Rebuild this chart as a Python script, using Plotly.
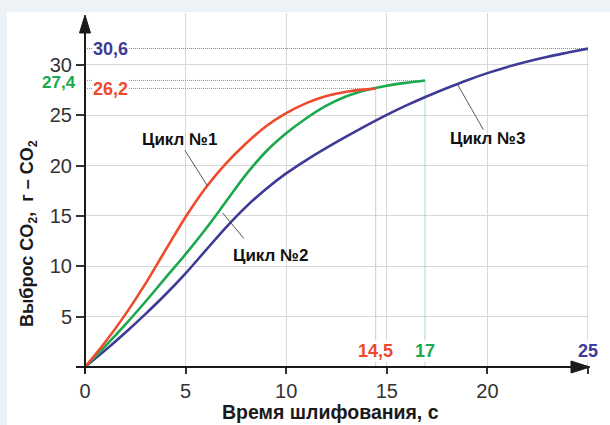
import plotly.graph_objects as go

# ---------------- data ----------------
red_x = [0, 1, 2, 3, 4, 5, 6, 7, 8, 9, 10, 11, 12, 13, 14, 14.45]
red_y = [0, 2.45, 5.2, 8.25, 11.6, 14.9, 17.8, 20.2, 22.2, 23.9, 25.2, 26.2, 26.9, 27.33, 27.57, 27.65]

green_x = [0, 1, 2, 3, 4, 5, 6, 7, 8, 9, 10, 11, 12, 13, 14, 15, 16, 16.9]
green_y = [0, 2.05, 4.2, 6.48, 8.85, 11.2, 13.7, 16.4, 19.1, 21.4, 23.2, 24.7, 25.95, 26.88, 27.5, 27.93,
           28.23, 28.45]

blue_x = list(range(0, 26))
blue_y = [0, 1.65, 3.4, 5.25, 7.2, 9.3, 11.58, 13.85, 15.9, 17.68, 19.22, 20.55, 21.76, 22.9, 24.0, 25.04,
          26.0, 26.89, 27.71, 28.48, 29.18, 29.8, 30.34, 30.81, 31.22, 31.62]

cycle_names = ["Цикл №1", "Цикл №2", "Цикл №3"]
end_time_labels = ["14,5", "17", "25"]
end_value_labels = ["26,2", "27,4", "30,6"]

x_ticks = [0, 5, 10, 15, 20, 25]
x_tick_text = ["0", "5", "10", "15", "20", ""]
y_ticks = [5, 10, 15, 20, 25, 30]

x_title = "Время шлифования, с"
y_title = "Выброс CO<sub>2</sub>,  г – CO<sub>2</sub>"

# ---------------- styling ----------------
RED = "#ee4a2c"
GREEN = "#1aa94c"
BLUE = "#3e3a98"
RED_DOT = "#f07a68"
GREEN_DOT = "#4cc078"
BLUE_DOT = "#7b78c4"
FONT = "Liberation Sans, Arial, sans-serif"

W, H = 610, 425
L, R, T, B = 85, 22, 13, 58
PW, PH = W - L - R, H - T - B


def px(xp):
    return (xp - L) / PW


def py(yp):
    return (H - B - yp) / PH


fig = go.Figure()

# dotted guide lines (end of each cycle)
for xs, ys, col in [(red_x, red_y, RED_DOT), (green_x, green_y, GREEN_DOT), (blue_x, blue_y, BLUE_DOT)]:
    xe, ye = xs[-1], ys[-1]
    fig.add_trace(go.Scatter(x=[0, xe, xe], y=[ye, ye, 0], mode="lines",
                             line=dict(color=col, width=1, dash="1px,1px"),
                             hoverinfo="skip"))

# curves
for xs, ys, col in [(blue_x, blue_y, BLUE), (green_x, green_y, GREEN), (red_x, red_y, RED)]:
    fig.add_trace(go.Scatter(x=xs, y=ys, mode="lines",
                             line=dict(color=col, width=2.6, shape="spline", smoothing=1.0),
                             hoverinfo="skip"))

# leader lines for the cycle labels
leaders = [((4.97, 21.5), (6.08, 18.0)),
           ((7.90, 12.75), (6.84, 15.3)),
           ((19.80, 23.57), (18.50, 28.1))]
for (x0, y0), (x1, y1) in leaders:
    fig.add_trace(go.Scatter(x=[x0, x1], y=[y0, y1], mode="lines",
                             line=dict(color="#444444", width=0.9), hoverinfo="skip"))

annotations = []
label_pos = [(4.72, 22.6), (9.24, 11.1), (20.03, 22.7)]
for name, (lx, ly) in zip(cycle_names, label_pos):
    annotations.append(dict(x=lx, y=ly, xref="x", yref="y", text="<b>%s</b>" % name,
                            xanchor="center", yanchor="middle",
                            showarrow=False, font=dict(family=FONT, size=17, color="#111111")))

# end value labels on the y side
annotations.append(dict(x=px(92), y=blue_y[-1], xref="paper", yref="y", text="<b>%s</b>" % end_value_labels[2],
                        xanchor="left", yanchor="middle", showarrow=False, bgcolor="white", borderpad=0,
                        font=dict(family=FONT, size=18, color=BLUE)))
annotations.append(dict(x=px(92), y=red_y[-1], xref="paper", yref="y", text="<b>%s</b>" % end_value_labels[0],
                        xanchor="left", yanchor="middle", showarrow=False, bgcolor="white", borderpad=0,
                        font=dict(family=FONT, size=18, color=RED)))
annotations.append(dict(x=px(77), y=green_y[-1], xref="paper", yref="y", text="<b>%s</b>" % end_value_labels[1],
                        xanchor="right", yanchor="middle", showarrow=False, borderpad=0, yshift=-2,
                        font=dict(family=FONT, size=17, color=GREEN)))
# end time labels on the x side
for xe, txt, col in [(red_x[-1], end_time_labels[0], RED), (green_x[-1], end_time_labels[1], GREEN),
                     (blue_x[-1], end_time_labels[2], BLUE)]:
    annotations.append(dict(x=xe, y=py(351), xref="x", yref="paper", text="<b>%s</b>" % txt,
                            xanchor="center", yanchor="middle",
                            showarrow=False, bgcolor="white", borderpad=0,
                            font=dict(family=FONT, size=18, color=col)))

# axis titles
annotations.append(dict(x=px(330), y=py(412), xref="paper", yref="paper", text="<b>%s</b>" % x_title,
                        xanchor="center", yanchor="middle",
                        showarrow=False, font=dict(family=FONT, size=19.5, color="#1a1a1a")))
annotations.append(dict(x=px(28), y=py(234), xref="paper", yref="paper", text="<b>%s</b>" % y_title,
                        xanchor="center", yanchor="middle",
                        textangle=-90, showarrow=False, font=dict(family=FONT, size=18, color="#1a1a1a")))

AX = "#1a1a1a"
shapes = [
    # page background strips
    dict(type="rect", xref="paper", yref="paper", x0=px(0), x1=px(W), y0=py(0), y1=py(12),
         fillcolor="#edf2f7", line=dict(width=0), layer="below"),
    dict(type="rect", xref="paper", yref="paper", x0=px(0), x1=px(7), y0=py(H), y1=py(0),
         fillcolor="#edf2f7", line=dict(width=0), layer="below"),
    # axes lines
    dict(type="line", xref="paper", yref="paper", x0=px(76), x1=px(575), y0=0, y1=0,
         line=dict(color=AX, width=2)),
    dict(type="line", xref="paper", yref="paper", x0=px(85), x1=px(85), y0=py(373), y1=py(30),
         line=dict(color=AX, width=2)),
    # arrow heads
    dict(type="path", xref="paper", yref="paper",
         path="M %f,%f L %f,%f L %f,%f Z" % (px(590), py(367), px(571), py(361), px(571), py(373)),
         fillcolor=AX, line=dict(color=AX, width=1)),
    dict(type="path", xref="paper", yref="paper",
         path="M %f,%f L %f,%f L %f,%f Z" % (px(85), py(15), px(79.5), py(33), px(90.5), py(33)),
         fillcolor=AX, line=dict(color=AX, width=1)),
]

fig.update_layout(
    width=W, height=H,
    margin=dict(l=L, r=R, t=T, b=B, pad=0),
    paper_bgcolor="white", plot_bgcolor="white",
    showlegend=False, hovermode=False,
    annotations=annotations, shapes=shapes,
    xaxis=dict(range=[0, 25], tickvals=x_ticks, ticktext=x_tick_text, showgrid=True,
               gridcolor="#d8d8d8", gridwidth=1, zeroline=False, showline=False,
               ticks="outside", ticklen=6, tickwidth=1.5, tickcolor="#333333",
               tickfont=dict(family=FONT, size=20, color="#333333")),
    yaxis=dict(range=[0, 35.15], tickvals=y_ticks, showgrid=True,
               gridcolor="#d8d8d8", gridwidth=1, zeroline=False, showline=False,
               ticks="outside", ticklen=8, tickwidth=1.5, tickcolor="#333333",
               tickfont=dict(family=FONT, size=20, color="#333333")),
)

fig.write_html("out.html", config={"displayModeBar": False},
               post_script="document.body.style.margin='0px';")
